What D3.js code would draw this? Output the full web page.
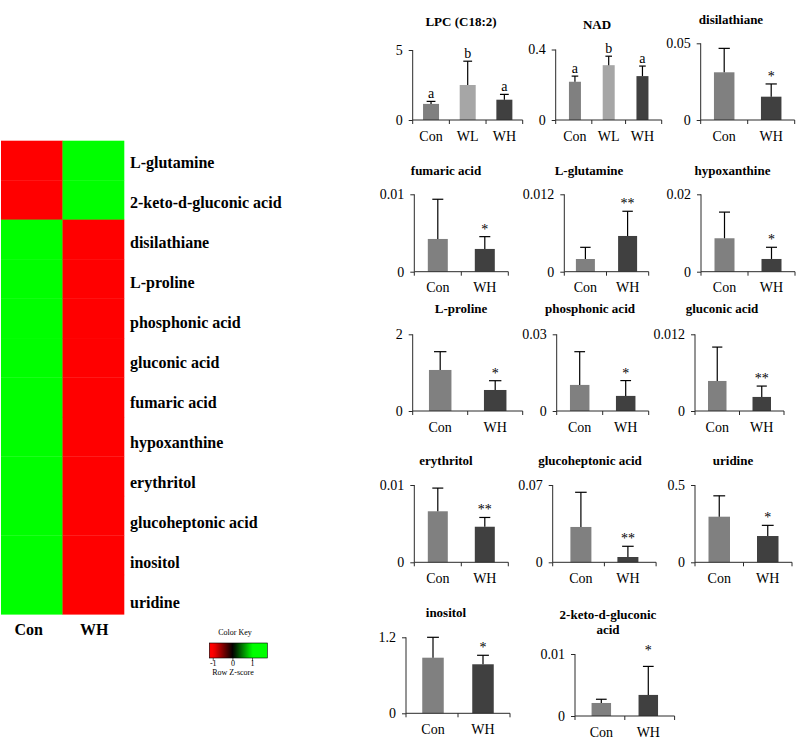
<!DOCTYPE html>
<html><head><meta charset="utf-8">
<script src="https://cdn.jsdelivr.net/npm/d3@7"></script>
<style>
body{margin:0;background:#fff}
svg{display:block}
text{font-family:"Liberation Serif","Times New Roman",serif;fill:#000}
</style>
</head><body>
<svg id="c" width="810" height="749"></svg>
<script>
// ---------- heatmap data ----------
const heatRows = ["L-glutamine","2-keto-d-gluconic acid","disilathiane","L-proline","phosphonic acid","gluconic acid","fumaric acid","hypoxanthine","erythritol","glucoheptonic acid","inositol","uridine"];
const heatCols = ["Con","WH"];
const heatCon = [-1,-1,1,1,1,1,1,1,1,1,1,1];
const heatWH  = [1,1,-1,-1,-1,-1,-1,-1,-1,-1,-1,-1];
const keyTicks = [-1,0,1];
const keyDomain = [-1.2,1.75];

// ---------- bar panel data ----------
const panelTitles = [["LPC (C18:2)"],["NAD"],["disilathiane"],["fumaric acid"],["L-glutamine"],["hypoxanthine"],["L-proline"],["phosphonic acid"],["gluconic acid"],["erythritol"],["glucoheptonic acid"],["uridine"],["inositol"],["2-keto-d-gluconic","acid"]];
const panelGroups = [["Con","WL","WH"],["Con","WL","WH"],["Con","WH"],["Con","WH"],["Con","WH"],["Con","WH"],["Con","WH"],["Con","WH"],["Con","WH"],["Con","WH"],["Con","WH"],["Con","WH"],["Con","WH"],["Con","WH"]];
const panelMeans = [[1.15,2.5,1.45],[0.217,0.311,0.249],[0.0311,0.0152],[0.00423,0.00294],[0.00197,0.00554],[0.00864,0.00329],[1.07,0.548],[0.0102,0.0059],[0.0047,0.0022],[0.0066,0.0046],[0.032,0.0048],[0.295,0.17],[0.878,0.774],[0.0021,0.0034]];
const panelSD = [[0.18,1.7,0.38],[0.032,0.051,0.057],[0.0156,0.0083],[0.00513,0.00159],[0.00181,0.00383],[0.00676,0.00302],[0.477,0.242],[0.013,0.006],[0.0053,0.0017],[0.003,0.0012],[0.0314,0.0097],[0.135,0.069],[0.322,0.142],[0.0006,0.0046]];
const panelYMax = [5,0.4,0.05,0.01,0.012,0.02,2,0.03,0.012,0.01,0.07,0.5,1.2,0.01];
const panelMarks = [["a","b","a"],["a","b","a"],["","*"],["","*"],["","**"],["","*"],["","*"],["","*"],["","**"],["","**"],["","**"],["","*"],["","*"],["","*"]];
const groupColors = {Con:"#808080", WL:"#a6a6a6", WH:"#404040"};

// ---------- layout (positions only) ----------
const layout = [
  {ax:412.7,w:110,po:0,top:50,base:120,bw:16,tx:461,ty:26},
  {ax:555.7,w:106,po:0.07,top:49.5,base:120,bw:12,tx:597,ty:28.5},
  {ax:700.7,w:94,po:0,top:43.3,base:120,bw:20.5,tx:731,ty:24},
  {ax:414.3,w:94,po:0,top:194.3,base:271.7,bw:20,tx:446,ty:175},
  {ax:564.3,w:84.4,po:0,top:194.3,base:271.7,bw:19,tx:589,ty:175},
  {ax:701,w:94,po:0,top:194.3,base:271.7,bw:20,tx:732.5,ty:175},
  {ax:412.7,w:110,po:0,top:334.3,base:411,bw:22.5,tx:461,ty:313},
  {ax:556.7,w:92,po:0,top:334.3,base:411,bw:19.5,tx:590,ty:313},
  {ax:695,w:89,po:0,top:334.3,base:411,bw:18.5,tx:722,ty:313},
  {ax:414.3,w:94,po:0,top:485,base:562.3,bw:20,tx:446,ty:465},
  {ax:552.7,w:103.4,po:0.1,top:485,base:562.3,bw:21,tx:590,ty:465},
  {ax:695,w:97,po:0,top:485,base:562.3,bw:21.5,tx:733,ty:465},
  {ax:406,w:104,po:0.04,top:637.3,base:713.3,bw:21.5,tx:446,ty:616.7},
  {ax:575,w:99.6,po:0.06,top:654,base:716,bw:19.5,tx:608,ty:619,lift:11}
];

const svg = d3.select("#c");

// ---------- heatmap ----------
const hmX = d3.scaleBand().domain(heatCols).range([1,124]);
const hmY = d3.scaleBand().domain(heatRows).range([140.7,614.3]);
const zColor = d3.scaleLinear().domain([-1,0,1]).range(["#ff0000","#000000","#00ff00"]).clamp(true);
const cells = [];
heatRows.forEach((r,i)=>{ cells.push({r,c:"Con",v:heatCon[i]}); cells.push({r,c:"WH",v:heatWH[i]}); });
const hm = svg.append("g");
hm.selectAll("rect").data(cells).join("rect")
  .attr("x",d=>hmX(d.c)).attr("y",d=>hmY(d.r))
  .attr("width",hmX.bandwidth()+0.3).attr("height",hmY.bandwidth()+0.3)
  .attr("fill",d=>zColor(d.v));
const labY = d3.scalePoint().domain(heatRows).range([167.5,607.5]);
hm.selectAll("text.rl").data(heatRows).join("text").attr("class","rl")
  .attr("x",130).attr("y",d=>labY(d))
  .style("font-size","16px").style("font-weight","bold").text(d=>d);
hm.selectAll("text.cl").data(heatCols).join("text").attr("class","cl")
  .attr("x",d=>hmX(d)+hmX.bandwidth()/2 + (d==="Con"?-3:1)).attr("y",635)
  .attr("text-anchor","middle")
  .style("font-size","16px").style("font-weight","bold").text(d=>d);

// color key
const keyX = d3.scaleLinear().domain(keyDomain).range([209.3,267.3]);
const defs = svg.append("defs");
const grad = defs.append("linearGradient").attr("id","kg").attr("x1","0%").attr("x2","100%");
d3.range(0,1.0001,0.05).forEach(t=>{
  const v = keyDomain[0] + t*(keyDomain[1]-keyDomain[0]);
  grad.append("stop").attr("offset",(t*100)+"%").attr("stop-color",zColor(v));
});
const key = svg.append("g");
key.append("rect").attr("x",keyX(keyDomain[0])).attr("y",643)
  .attr("width",keyX(keyDomain[1])-keyX(keyDomain[0])).attr("height",15)
  .attr("fill","url(#kg)").attr("stroke","#000").attr("stroke-width",0.6);
key.append("text").attr("x",235).attr("y",635).attr("text-anchor","middle").style("font-size","8px").text("Color Key");
key.selectAll("line.kt").data(keyTicks).join("line").attr("class","kt")
  .attr("x1",d=>keyX(d)).attr("x2",d=>keyX(d)).attr("y1",658).attr("y2",661)
  .attr("stroke","#000").attr("stroke-width",0.6);
key.selectAll("text.kl").data(keyTicks).join("text").attr("class","kl")
  .attr("x",d=>keyX(d)).attr("y",666).attr("text-anchor","middle")
  .style("font-size","8px").text(d=>d);
key.append("text").attr("x",233).attr("y",675).attr("text-anchor","middle").style("font-size","8px").text("Row Z-score");

// ---------- bar panels ----------
const axisColor = "#2a2a2a";
panelTitles.forEach((title,i)=>{
  const L = layout[i];
  const g = svg.append("g");
  const groups = panelGroups[i];
  const x = d3.scaleBand().domain(groups).range([L.ax, L.ax+L.w]).paddingInner(0).paddingOuter(L.po);
  const y = d3.scaleLinear().domain([0,panelYMax[i]]).range([L.base, L.top]);
  const data = groups.map((gname,j)=>({g:gname, m:panelMeans[i][j], sd:panelSD[i][j], mark:panelMarks[i][j]}));

  // title
  title.forEach((t,k)=>{
    g.append("text").attr("x",L.tx).attr("y",L.ty + k*15).attr("text-anchor","middle")
      .style("font-size","13px").style("font-weight","bold").text(t);
  });

  // bars
  g.selectAll("rect").data(data).join("rect")
    .attr("x",d=>x(d.g)+x.bandwidth()/2-L.bw/2).attr("width",L.bw)
    .attr("y",d=>y(d.m)).attr("height",d=>y(0)-y(d.m))
    .attr("fill",d=>groupColors[d.g]);

  // error bars (upper only)
  const cap = L.bw*0.55;
  data.forEach(d=>{
    const cx = x(d.g)+x.bandwidth()/2;
    const yt = y(d.m+d.sd);
    g.append("line").attr("x1",cx).attr("x2",cx).attr("y1",y(d.m)).attr("y2",yt).attr("stroke","#000").attr("stroke-width",1.2);
    g.append("line").attr("x1",cx-cap/2).attr("x2",cx+cap/2).attr("y1",yt).attr("y2",yt).attr("stroke","#000").attr("stroke-width",1.2);
    if (d.mark) {
      g.append("text").attr("x",cx).attr("y",yt-(L.lift||3)).attr("text-anchor","middle")
        .attr("fill","#000").style("font-size","14px").text(d.mark);
    }
  });

  // y axis
  const yAxis = d3.axisLeft(y).tickValues([0,panelYMax[i]]).tickSize(4).tickPadding(6).tickFormat(v=>String(v));
  const ya = g.append("g").attr("transform",`translate(${L.ax},0)`).call(yAxis);
  ya.select(".domain").attr("stroke",axisColor).attr("d",`M0,${L.top}V${L.base}`);
  ya.selectAll(".tick line").attr("stroke",axisColor);
  ya.selectAll(".tick text").style("font-size","14px").style("font-family","'Liberation Serif',serif").attr("fill","#000");

  // x axis
  const xa = g.append("g").attr("transform",`translate(0,${L.base})`);
  xa.append("line").attr("x1",L.ax).attr("x2",L.ax+L.w).attr("y1",0).attr("y2",0).attr("stroke",axisColor);
  const bounds = groups.map(gname=>x(gname)).concat([x(groups[groups.length-1])+x.step()]);
  if (L.po>0) { bounds[0]=L.ax; bounds[bounds.length-1]=L.ax+L.w; }
  xa.selectAll("line.xt").data(bounds).join("line").attr("class","xt")
    .attr("x1",d=>d).attr("x2",d=>d).attr("y1",0).attr("y2",4).attr("stroke",axisColor);
  xa.selectAll("text").data(groups).join("text")
    .attr("x",d=>x(d)+x.bandwidth()/2).attr("y",20.5).attr("text-anchor","middle")
    .attr("fill","#000").style("font-size","14px").text(d=>d);
});
</script>
</body></html>
